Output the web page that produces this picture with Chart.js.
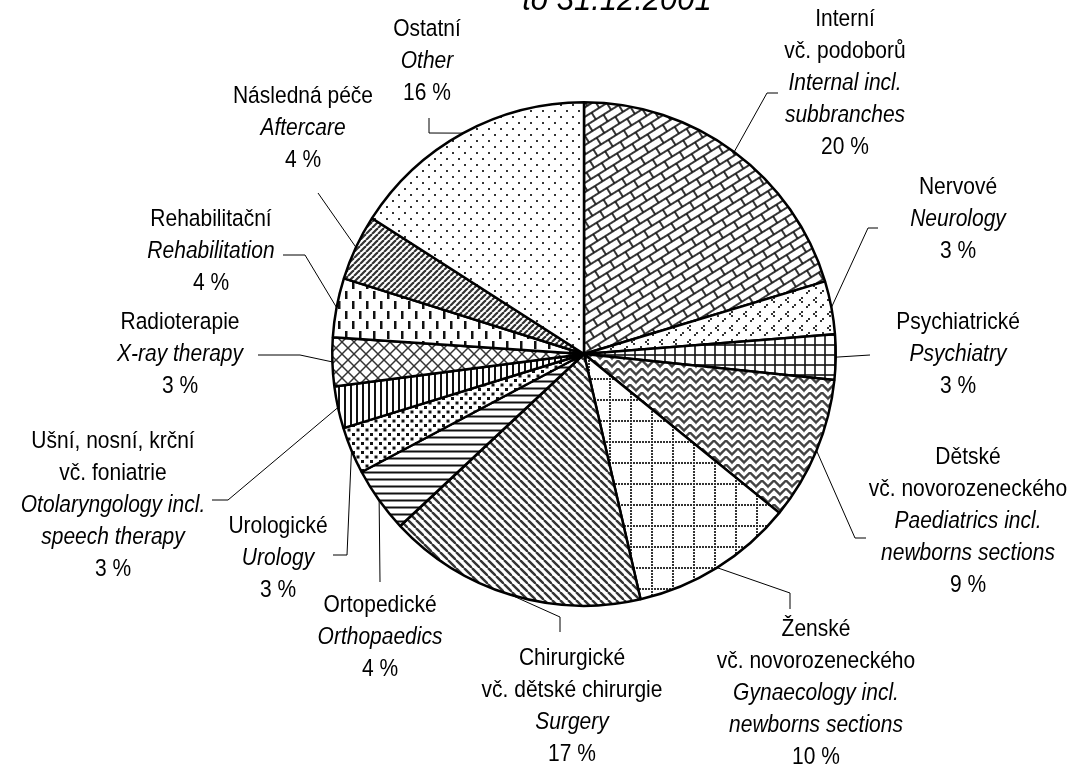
<!DOCTYPE html>
<html>
<head>
<meta charset="utf-8">
<script src="https://cdn.jsdelivr.net/npm/chart.js@4.4.1/dist/chart.umd.min.js"></script>
<style>
  html, body { margin: 0; padding: 0; background: #fff; }
  #wrap { width: 1082px; height: 776px; }
</style>
</head>
<body>
<div id="wrap"><canvas id="myChart" width="1082" height="776"></canvas></div>
<script>
// data (slice shares, clockwise from the top)
var namesCz = ['Interní\nvč. podoborů', 'Nervové', 'Psychiatrické', 'Dětské\nvč. novorozeneckého',
  'Ženské\nvč. novorozeneckého', 'Chirurgické\nvč. dětské chirurgie', 'Ortopedické', 'Urologické',
  'Ušní, nosní, krční\nvč. foniatrie', 'Radioterapie', 'Rehabilitační', 'Následná péče', 'Ostatní'];
var namesEn = ['Internal incl.\nsubbranches', 'Neurology', 'Psychiatry', 'Paediatrics incl.\nnewborns sections',
  'Gynaecology incl.\nnewborns sections', 'Surgery', 'Orthopaedics', 'Urology',
  'Otolaryngology incl.\nspeech therapy', 'X-ray therapy', 'Rehabilitation', 'Aftercare', 'Other'];
var shares = [20.3, 3.4, 2.9, 9.2, 10.5, 16.6, 4.2, 3.0, 2.7, 3.1, 3.8, 4.2, 15.9];
var percentLabels = ['20 %', '3 %', '3 %', '9 %', '10 %', '17 %', '4 %', '3 %', '3 %', '3 %', '4 %', '4 %', '16 %'];
var titleText = 'to 31.12.2001';

// label placement: centre x, y of first line, leader bend points (arc point is added from the chart)
var labelLayout = [
  { x: 845, y: 20,  leader: [[767, 93], [778, 93]] },
  { x: 958, y: 188, leader: [[868, 228], [878, 228]] },
  { x: 958, y: 323, leader: [[870, 355]] },
  { x: 968, y: 458, leader: [[855, 538], [866, 538]] },
  { x: 816, y: 630, leader: [[790, 593], [790, 609]] },
  { x: 572, y: 659, leader: [[560, 617], [560, 632]] },
  { x: 380, y: 606, leader: [[380, 582]] },
  { x: 278, y: 527, leader: [[347, 555], [333, 555]] },
  { x: 113, y: 442, leader: [[228, 500], [212, 500]] },
  { x: 180, y: 323, leader: [[300, 355], [258, 355]] },
  { x: 211, y: 220, leader: [[305, 255], [283, 255]] },
  { x: 303, y: 97,  leader: [[318, 193]] },
  { x: 427, y: 30,  leader: [[429, 133], [429, 118]] }
];

function makePattern(w, h, draw, rot) {
  var c = document.createElement('canvas');
  c.width = w; c.height = h;
  var g = c.getContext('2d');
  g.fillStyle = '#fff';
  g.fillRect(0, 0, w, h);
  g.strokeStyle = '#111';
  g.fillStyle = '#111';
  draw(g, w, h);
  var p = g.createPattern(c, 'repeat');
  if (rot) p.setTransform(new DOMMatrix().rotate(rot));
  return p;
}

function line(g, x1, y1, x2, y2) { g.beginPath(); g.moveTo(x1, y1); g.lineTo(x2, y2); g.stroke(); }

var patterns = [
  // brick, tilted
  makePattern(18, 16, function (g) {
    g.lineWidth = 1.7;
    line(g, 0, 1, 18, 1); line(g, 0, 9, 18, 9);
    line(g, 1, 1, 1, 9); line(g, 10, 9, 10, 17); line(g, 10, -1, 10, 1);
  }, -32),
  // small chevrons
  makePattern(14, 14, function (g) {
    g.fillStyle = '#333';
    [[3, 3], [10, 10]].forEach(function (p) {
      g.fillRect(p[0], p[1], 2, 2); g.fillRect(p[0] - 2, p[1] + 2, 2, 2); g.fillRect(p[0], p[1] + 4, 2, 2);
    });
  }),
  // grid
  makePattern(10, 10, function (g) {
    g.lineWidth = 1.6; line(g, 5, 0, 5, 10); line(g, 0, 5, 10, 5);
  }),
  // zigzag weave
  makePattern(12, 8, function (g) {
    g.strokeStyle = '#444'; g.lineWidth = 2.4;
    g.beginPath(); g.moveTo(-1, 7.5); g.lineTo(6, 0.5); g.lineTo(13, 7.5); g.stroke();
    line(g, -1, -0.5, 0, 0.5); line(g, 13, -0.5, 12, 0.5);
  }),
  // dotted grid
  makePattern(21, 21, function (g) {
    g.fillStyle = '#333';
    for (var i = 0; i < 7; i++) { g.fillRect(i * 3, 0, 2, 2); g.fillRect(0, i * 3, 2, 2); }
  }),
  // dense diagonal down-right
  makePattern(8, 8, function (g) {
    g.strokeStyle = '#333'; g.lineWidth = 2.4;
    line(g, -8, 0, 0, 8); line(g, 0, 0, 8, 8); line(g, 8, 0, 16, 8);
  }),
  // horizontal lines
  makePattern(8, 7, function (g) {
    g.lineWidth = 2; line(g, 0, 3.5, 8, 3.5);
  }),
  // big dots
  makePattern(9, 9, function (g) {
    g.fillRect(1, 1, 3, 3); g.fillRect(5.5, 5.5, 3, 3);
  }),
  // vertical lines
  makePattern(6, 6, function (g) {
    g.lineWidth = 2; line(g, 3, 0, 3, 6);
  }),
  // diamond cross hatch
  makePattern(12, 12, function (g) {
    g.strokeStyle = '#333'; g.lineWidth = 1.5;
    line(g, 0, 0, 12, 12); line(g, 0, 12, 12, 0);
  }),
  // vertical dashes
  makePattern(14, 20, function (g) {
    g.fillRect(2, 1, 2.5, 8); g.fillRect(9, 11, 2.5, 8);
  }),
  // diagonal up-right
  makePattern(6, 6, function (g) {
    g.strokeStyle = '#333'; g.lineWidth = 2.2;
    line(g, -6, 6, 0, 0); line(g, 0, 6, 6, 0); line(g, 6, 6, 12, 0);
  }),
  // sparse dots
  makePattern(12, 12, function (g) {
    g.fillStyle = '#333'; g.fillRect(2, 2, 2, 2); g.fillRect(8, 8, 2, 2);
  })
];

var FONT = '"Liberation Sans", Arial, sans-serif';

// text is a little taller than it is wide in the reference
function tallText(ctx, t, x, y) {
  ctx.save();
  ctx.translate(x, y);
  ctx.scale(1, 1.1);
  ctx.fillText(t, 0, 0);
  ctx.restore();
}

var labelPlugin = {
  id: 'outerLabels',
  afterDraw: function (chart) {
    var ctx = chart.ctx;
    var arcs = chart.getDatasetMeta(0).data;
    ctx.save();
    // title (only its last line is inside the picture)
    ctx.fillStyle = '#000';
    ctx.font = 'italic 31px ' + FONT;
    ctx.textAlign = 'center';
    ctx.textBaseline = 'alphabetic';
    tallText(ctx, titleText, 617, 10);

    arcs.forEach(function (arc, i) {
      var p = arc.getProps(['x', 'y', 'startAngle', 'endAngle', 'outerRadius'], true);
      var mid = (p.startAngle + p.endAngle) / 2;
      var ax = p.x + Math.cos(mid) * p.outerRadius;
      var ay = p.y + Math.sin(mid) * p.outerRadius;
      var lay = labelLayout[i];
      ctx.strokeStyle = '#000';
      ctx.lineWidth = 1;
      ctx.beginPath();
      ctx.moveTo(ax, ay);
      lay.leader.forEach(function (q) { ctx.lineTo(q[0], q[1]); });
      ctx.stroke();

      var lines = [];
      namesCz[i].split('\n').forEach(function (t) { lines.push([t, false]); });
      namesEn[i].split('\n').forEach(function (t) { lines.push([t, true]); });
      lines.push([percentLabels[i], false]);
      ctx.textBaseline = 'middle';
      lines.forEach(function (l, k) {
        ctx.font = (l[1] ? 'italic ' : '') + '21px ' + FONT;
        tallText(ctx, l[0], lay.x, lay.y + k * 32);
      });
    });
    ctx.restore();
  }
};

var ctx = document.getElementById('myChart').getContext('2d');
var myChart = new Chart(ctx, {
  type: 'pie',
  data: {
    labels: namesCz,
    datasets: [{
      data: shares,
      backgroundColor: patterns,
      borderColor: '#000',
      borderWidth: 2.5
    }]
  },
  options: {
    responsive: false,
    animation: false,
    events: [],
    layout: { padding: { left: 331, right: 245, top: 101, bottom: 169 } },
    plugins: {
      legend: { display: false },
      tooltip: { enabled: false },
      title: { display: false }
    }
  },
  plugins: [labelPlugin]
});
</script>
</body>
</html>
